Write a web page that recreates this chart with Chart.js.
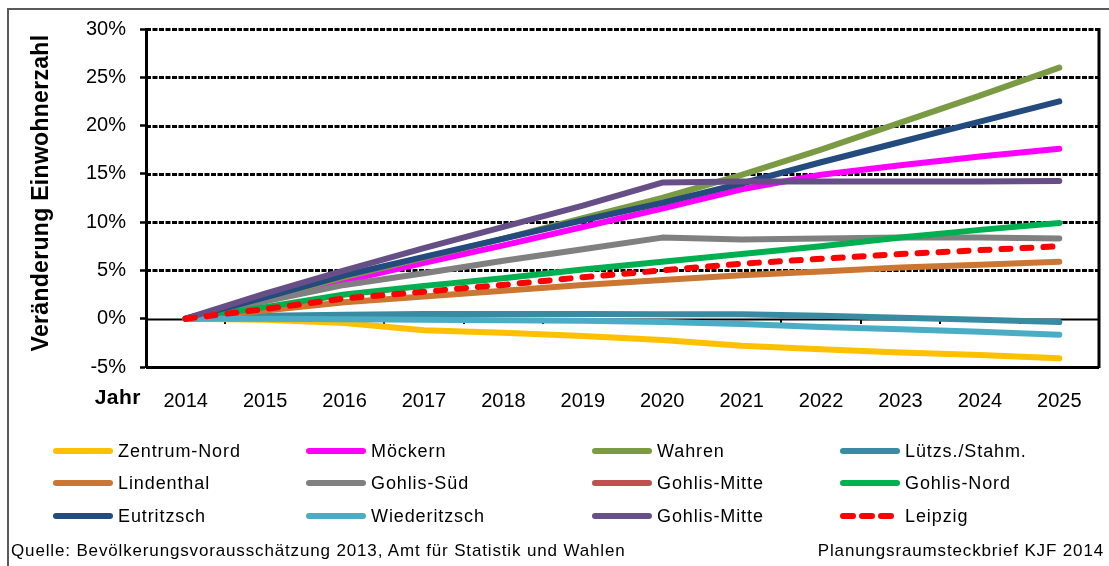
<!DOCTYPE html>
<html lang="de">
<head>
<meta charset="utf-8">
<title>Veränderung Einwohnerzahl 2014–2025</title>
<script src="https://cdn.jsdelivr.net/npm/chart.js@4"></script>
<style>
  html, body { margin: 0; padding: 0; background: #fff; }
  body { width: 1109px; height: 566px; position: relative; overflow: hidden; font-family: "Liberation Sans", Arial, sans-serif; color: #000; }
  #frame { position: absolute; left: 7px; top: 8px; width: 1200px; height: 700px; border: 2px solid #5a5a5a; box-sizing: border-box; }
  #wrap { position: absolute; left: 0; top: 0; width: 1109px; height: 420px; }
  #legend { position: absolute; left: 0; top: 0; width: 1109px; height: 566px; pointer-events: none; }
  .item { position: absolute; height: 24px; display: flex; align-items: center; font-size: 18px; letter-spacing: 0.9px; white-space: nowrap; }
  .item svg { margin-right: 5px; }
  .foot { position: absolute; top: 541px; font-size: 17px; letter-spacing: 0.85px; white-space: nowrap; }
</style>
</head>
<body>
<div id="frame"></div>
<div id="wrap"><canvas id="chart" width="1109" height="420"></canvas></div>
<div id="legend"></div>
<div class="foot" style="left:11px">Quelle:  Bevölkerungsvorausschätzung 2013, Amt für Statistik und Wahlen</div>
<div class="foot" style="right:5px">Planungsraumsteckbrief KJF 2014</div>
<script>
(function () {
  "use strict";

  // ---- data (Veränderung gegenüber 2014, in %) ----
  const years = ["2014", "2015", "2016", "2017", "2018", "2019", "2020", "2021", "2022", "2023", "2024", "2025"];
  const yTicks = [-5, 0, 5, 10, 15, 20, 25, 30];

  const zentrumNord   = [0, -0.1, -0.45, -1.2, -1.45, -1.8, -2.2, -2.8, -3.15, -3.5, -3.75, -4.1];
  const moeckern      = [0, 1.9, 3.9, 5.8, 7.6, 9.5, 11.4, 13.4, 14.9, 15.9, 16.8, 17.6];
  const wahren        = [0, 2.1, 4.3, 6.3, 8.3, 10.4, 12.5, 14.9, 17.5, 20.3, 23.1, 26.0];
  const luetzsStahm   = [0, 0.3, 0.4, 0.5, 0.5, 0.5, 0.45, 0.45, 0.3, 0.1, -0.1, -0.35];
  const lindenthal    = [0, 0.85, 1.7, 2.3, 2.9, 3.5, 4.0, 4.5, 4.9, 5.3, 5.6, 5.9];
  const gohlisSued    = [0, 1.8, 3.5, 4.7, 6.0, 7.2, 8.4, 8.2, 8.3, 8.4, 8.4, 8.3];
  const gohlisMitteA  = [null, null, null, null, null, null, null, null, null, null, null, null]; // nicht sichtbar
  const gohlisNord    = [0, 1.2, 2.5, 3.4, 4.2, 5.1, 5.9, 6.7, 7.5, 8.4, 9.2, 9.9];
  const eutritzsch    = [0, 2.2, 4.5, 6.4, 8.3, 10.2, 12.0, 14.0, 16.2, 18.3, 20.4, 22.5];
  const wiederitzsch  = [0, 0.0, -0.05, -0.1, -0.15, -0.2, -0.35, -0.55, -0.85, -1.1, -1.35, -1.65];
  const gohlisMitteB  = [0, 2.6, 5.0, 7.3, 9.5, 11.7, 14.1, 14.2, 14.2, 14.2, 14.2, 14.25];
  const leipzig       = [0, 1.0, 2.1, 2.8, 3.5, 4.3, 5.0, 5.7, 6.2, 6.7, 7.1, 7.5];

  const names  = ["Zentrum-Nord", "Möckern", "Wahren", "Lützs./Stahm.", "Lindenthal", "Gohlis-Süd", "Gohlis-Mitte", "Gohlis-Nord", "Eutritzsch", "Wiederitzsch", "Gohlis-Mitte", "Leipzig"];
  const series = [zentrumNord, moeckern, wahren, luetzsStahm, lindenthal, gohlisSued, gohlisMitteA, gohlisNord, eutritzsch, wiederitzsch, gohlisMitteB, leipzig];
  const colors = ["#FFC000", "#FF00FF", "#7A9A43", "#388BA1", "#CB7733", "#808080", "#C0504D", "#00B050", "#234B7E", "#4BACC6", "#664F86", "#FF0000"];

  const FONT = "'Liberation Sans', Arial, sans-serif";

  // excel-like plot area: dashed gridlines, solid 0-axis with ticks, frame
  const plotFrame = {
    id: "plotFrame",
    beforeDatasetsDraw(chart) {
      const { ctx, chartArea: a, scales: { x, y } } = chart;
      ctx.save();
      ctx.strokeStyle = "#000";
      yTicks.forEach((v) => {
        const py = Math.round(y.getPixelForValue(v)) + 0.5;
        ctx.beginPath();
        if (v === 0) { ctx.lineWidth = 2; ctx.setLineDash([]); }
        else if (v === yTicks[0]) { ctx.lineWidth = 3; ctx.setLineDash([]); }
        else { ctx.lineWidth = 3; ctx.setLineDash([5, 1.5]); }
        ctx.moveTo(a.left, py); ctx.lineTo(a.right, py); ctx.stroke();
      });
      ctx.setLineDash([]);
      // right border
      ctx.lineWidth = 3;
      ctx.beginPath(); ctx.moveTo(a.right, a.top - 1); ctx.lineTo(a.right, a.bottom + 1); ctx.stroke();
      // category ticks on the 0 axis
      const y0 = Math.round(y.getPixelForValue(0));
      ctx.lineWidth = 2;
      for (let i = 0; i < years.length - 1; i++) {
        const px = Math.round((x.getPixelForValue(i) + x.getPixelForValue(i + 1)) / 2);
        ctx.beginPath(); ctx.moveTo(px, y0); ctx.lineTo(px, y0 + 5); ctx.stroke();
      }
      ctx.restore();
    },
    afterDraw(chart) {
      const { ctx } = chart;
      ctx.save();
      ctx.fillStyle = "#000";
      ctx.font = "bold 23px " + FONT;
      ctx.letterSpacing = "0.3px";
      ctx.textAlign = "center"; ctx.textBaseline = "middle";
      ctx.translate(42, 193); ctx.rotate(-Math.PI / 2);
      ctx.fillText("Veränderung Einwohnerzahl", 0, 0);
      ctx.restore();
      ctx.save();
      ctx.font = "bold 21px " + FONT;
      ctx.letterSpacing = "0.5px";
      ctx.textAlign = "right"; ctx.textBaseline = "middle";
      ctx.fillText("Jahr", 141, 398);
      ctx.restore();
    },
  };

  const n = series.length;
  const datasets = series.map((d, i) => ({
    label: names[i],
    data: d,
    borderColor: colors[i],
    backgroundColor: colors[i],
    borderWidth: 6,
    borderCapStyle: "round",
    borderJoinStyle: "round",
    borderDash: i === n - 1 ? [9, 12] : [],
    pointRadius: 0,
    tension: 0,
    fill: false,
    order: n - i, // later series on top, like Excel
  }));

  new Chart(document.getElementById("chart"), {
    type: "line",
    data: { labels: years, datasets },
    options: {
      responsive: false,
      animation: false,
      layout: { padding: { left: 0, top: 29, right: 10, bottom: 0 } },
      plugins: { legend: { display: false }, tooltip: { enabled: false } },
      scales: {
        x: {
          type: "category",
          offset: true,
          grid: { display: false, drawTicks: false },
          border: { display: false },
          ticks: { color: "#000", font: { family: FONT, size: 20 }, padding: 22, autoSkip: false, maxRotation: 0 },
          afterFit(s) { s.height = 53; },
        },
        y: {
          min: -5, max: 30,
          grid: { drawOnChartArea: false, drawTicks: true, tickLength: 6, tickColor: "#000", tickWidth: 2.5 },
          border: { display: true, color: "#000", width: 3 },
          ticks: { stepSize: 5, color: "#000", font: { family: FONT, size: 20 }, padding: 14, callback: (v) => v + "%" },
          afterFit(s) { s.width = 146; },
        },
      },
    },
    plugins: [plotFrame],
  });

  // legend: 4 columns x 3 rows, series order row-wise
  const colX = [53, 306, 592, 840];
  const rowY = [451, 483, 516];
  const leg = document.getElementById("legend");
  names.forEach((name, i) => {
    const el = document.createElement("div");
    el.className = "item";
    el.style.left = colX[i % 4] + "px";
    el.style.top = (rowY[Math.floor(i / 4)] - 12) + "px";
    const dash = i === n - 1 ? ' stroke-dasharray="10 9"' : "";
    el.innerHTML = '<svg width="60" height="10"><line x1="3" y1="5" x2="57" y2="5" stroke="' + colors[i] +
      '" stroke-width="6" stroke-linecap="round"' + dash + '/></svg><span></span>';
    el.querySelector("span").textContent = name;
    leg.appendChild(el);
  });
})();
</script>
</body>
</html>
